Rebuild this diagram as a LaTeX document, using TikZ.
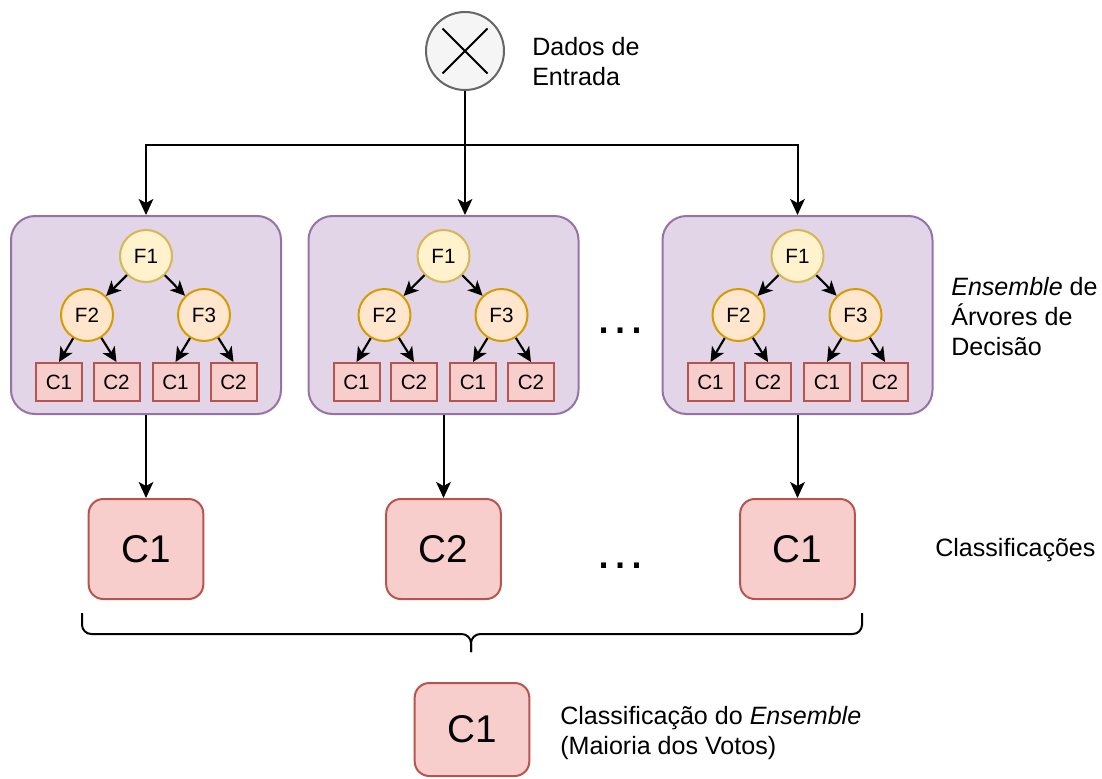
\documentclass[tikz,border=0pt]{standalone}
\usepackage{fontspec}
\setmainfont{Liberation Sans}
\usetikzlibrary{arrows.meta,calc}

\definecolor{inFill}{HTML}{F5F5F5}
\definecolor{inLine}{HTML}{666666}
\definecolor{treeFill}{HTML}{E1D5E7}
\definecolor{treeLine}{HTML}{9673A6}
\definecolor{rootFill}{HTML}{FFF2CC}
\definecolor{rootLine}{HTML}{D6B656}
\definecolor{featFill}{HTML}{FFE6CC}
\definecolor{featLine}{HTML}{D79B00}
\definecolor{clsFill}{HTML}{F8CECC}
\definecolor{clsLine}{HTML}{B85450}

\tikzset{
  lbl/.style={font=\fontsize{18.8}{22.5}\selectfont, align=left, anchor=west, inner sep=0pt},
  treebox/.style={draw=treeLine, fill=treeFill, line width=1.5pt, rounded corners=18pt,
    minimum width=202.5pt, minimum height=148.5pt},
  rootnode/.style={circle, draw=rootLine, fill=rootFill, line width=1.5pt, minimum size=39pt,
    inner sep=0pt, font=\fontsize{15.5}{17}\selectfont},
  featnode/.style={circle, draw=featLine, fill=featFill, line width=1.5pt, minimum size=39pt,
    inner sep=0pt, font=\fontsize{15.5}{17}\selectfont},
  leafnode/.style={draw=clsLine, fill=clsFill, line width=1.5pt, minimum width=34.5pt,
    minimum height=28.5pt, inner sep=0pt, font=\fontsize{15.5}{17}\selectfont},
  resnode/.style={draw=clsLine, fill=clsFill, line width=1.5pt, rounded corners=11pt,
    minimum width=86pt, minimum height=75pt, inner sep=0pt, font=\fontsize{29}{32}\selectfont},
  link/.style={line width=1.5pt, -{Stealth[length=12pt,width=11pt,inset=3pt]}},
  treelink/.style={line width=1.6pt, -{Stealth[length=11pt,width=10.5pt,inset=3pt]}},
  dots/.style={font=\fontsize{39}{42}\selectfont, inner sep=0pt},
}

% one decision tree inside its rounded box
\newcommand{\dtree}[2]{%
  \node[treebox] (#1) at #2 {};
  \node[rootnode] (#1f1) at ($#2+(0,-59)$) {F1};
  \node[featnode] (#1f2) at ($#2+(-59,0)$) {F2};
  \node[featnode] (#1f3) at ($#2+(58,0)$) {F3};
  \node[leafnode] (#1a) at ($#2+(-87,67)$) {C1};
  \node[leafnode] (#1b) at ($#2+(-29.5,67)$) {C2};
  \node[leafnode] (#1c) at ($#2+(29.5,67)$) {C1};
  \node[leafnode] (#1d) at ($#2+(87.5,67)$) {C2};
  \draw[treelink] (#1f1) -- (#1f2);
  \draw[treelink] (#1f1) -- (#1f3);
  \draw[treelink] (#1f2) -- (#1a.north);
  \draw[treelink] (#1f2) -- (#1b.north);
  \draw[treelink] (#1f3) -- (#1c.north);
  \draw[treelink] (#1f3) -- (#1d.north);
}

\begin{document}
\begin{tikzpicture}[x=0.75pt,y=-0.75pt]
  \useasboundingbox (0,0) rectangle (1102,778);

  % input node
  \node[circle, draw=inLine, fill=inFill, line width=1.5pt, minimum size=58.5pt, inner sep=0pt]
    (input) at (465,51) {};
  \draw[line width=1.5pt] ($(input)+(-22.5,-22.5)$) -- ($(input)+(22.5,22.5)$)
                          ($(input)+(-22.5,22.5)$) -- ($(input)+(22.5,-22.5)$);
  \node[lbl] (inlbl) at (532,62) {Dados de\\Entrada};

  % ensemble of trees
  \dtree{ta}{(146,315)}
  \dtree{tb}{(443.5,315)}
  \dtree{tc}{(797.5,315)}
  \node[dots] (tdots) at (620,331) {…};
  \node[lbl] (enslbl) at (951,317) {\textit{Ensemble} de\\Árvores de\\Decisão};

  % distribution of the input
  \coordinate (split) at (465,145);
  \draw[line width=1.5pt] (input.south) -- (split);
  \draw[link] (split) -| (ta.north);
  \draw[link] (split) -- (split |- tb.north);
  \draw[link] (split) -| (tc.north);

  % individual classifications
  \node[resnode] (ra) at (146,549) {C1};
  \node[resnode] (rb) at (443.5,549) {C2};
  \node[resnode] (rc) at (797.5,549) {C1};
  \node[dots] (rdots) at (620,566) {…};
  \node[lbl] (clslbl) at (935,550) {Classificações};
  \draw[link] (ta.south) -- (ra.north);
  \draw[link] (tb.south) -- (rb.north);
  \draw[link] (tc.south) -- (rc.north);

  % brace gathering the votes
  \draw[line width=1.5pt, rounded corners=7pt] (82,613) -- (82,634) -- (471,634) -- (471,652);
  \draw[line width=1.5pt, rounded corners=7pt] (862,613) -- (862,634) -- (471,634) -- (471,652);

  % final classification
  \node[resnode, minimum height=69.75pt] (final) at (472,729.5) {C1};
  \node[lbl] (finlbl) at (560,733) {Classificação do \textit{Ensemble}\\(Maioria dos Votos)};
\end{tikzpicture}
\end{document}
